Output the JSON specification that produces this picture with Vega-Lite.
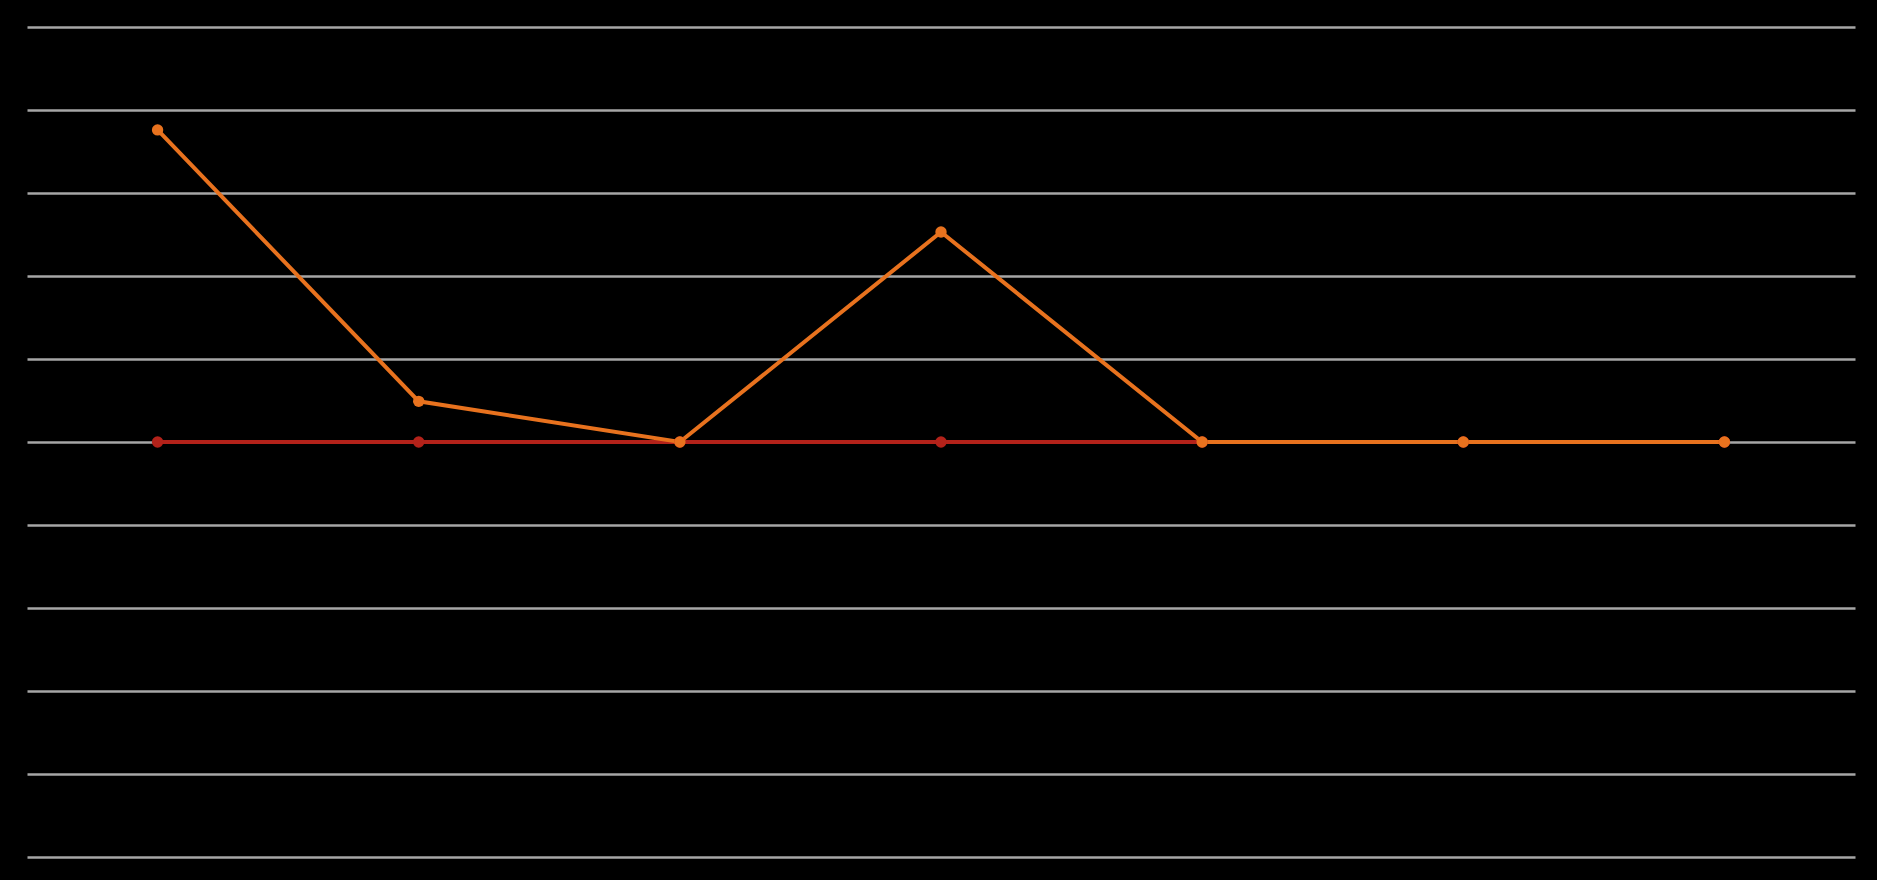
{
  "$schema": "https://vega.github.io/schema/vega-lite/v6.json",
  "width": 1828,
  "height": 830,
  "autosize": "none",
  "padding": {"left": 27, "top": 27, "right": 22, "bottom": 23},
  "background": "#000000",
  "config": {"view": {"stroke": null}},
  "data": {
    "values": [
      {"cat": "1", "series": "Series 1", "value": 0},
      {"cat": "2", "series": "Series 1", "value": 0},
      {"cat": "3", "series": "Series 1", "value": 0},
      {"cat": "4", "series": "Series 1", "value": 0},
      {"cat": "5", "series": "Series 1", "value": 0},
      {"cat": "6", "series": "Series 1", "value": 0},
      {"cat": "7", "series": "Series 1", "value": 0},
      {"cat": "1", "series": "Series 2", "value": 3.76},
      {"cat": "2", "series": "Series 2", "value": 0.49},
      {"cat": "3", "series": "Series 2", "value": 0},
      {"cat": "4", "series": "Series 2", "value": 2.53},
      {"cat": "5", "series": "Series 2", "value": 0},
      {"cat": "6", "series": "Series 2", "value": 0},
      {"cat": "7", "series": "Series 2", "value": 0}
    ]
  },
  "mark": {"type": "line", "strokeWidth": 4, "point": {"filled": true, "size": 130}},
  "encoding": {
    "x": {
      "field": "cat", "type": "ordinal",
      "scale": {"type": "point", "padding": 0.5},
      "axis": null
    },
    "y": {
      "field": "value", "type": "quantitative",
      "scale": {"domain": [-5, 5], "nice": false},
      "axis": {
        "values": [-5, -4, -3, -2, -1, 0, 1, 2, 3, 4, 5],
        "labels": false, "ticks": false, "domain": false, "title": null,
        "grid": true, "gridColor": "#a6a6a6", "gridWidth": 2.5, "gridOpacity": 1
      }
    },
    "color": {
      "field": "series", "type": "nominal",
      "scale": {"domain": ["Series 1", "Series 2"], "range": ["#b3221a", "#e8721e"]},
      "legend": null
    }
  }
}
